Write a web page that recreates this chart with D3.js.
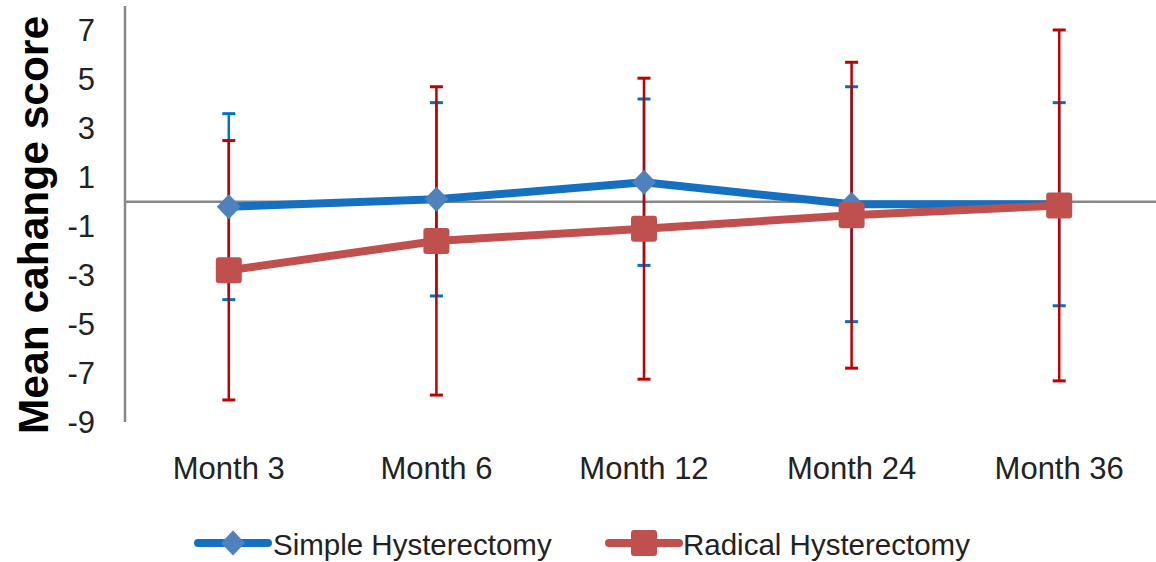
<!DOCTYPE html>
<html>
<head>
<meta charset="utf-8">
<script src="https://cdn.jsdelivr.net/npm/d3@7"></script>
<style>
  body { margin: 0; background: #fff; }
  svg { display: block; font-family: "Liberation Sans", Arial, sans-serif; }
</style>
</head>
<body>
<svg id="chart" width="1156" height="562"></svg>
<script>
const months = ["Month 3", "Month 6", "Month 12", "Month 24", "Month 36"];
const simpleMean = [-0.2, 0.1, 0.8, -0.1, -0.1];
const simpleErr = [3.8, 3.95, 3.4, 4.8, 4.15];
const radicalMean = [-2.8, -1.6, -1.1, -0.55, -0.15];
const radicalErr = [5.3, 6.3, 6.15, 6.25, 7.17];
const yTicks = [7, 5, 3, 1, -1, -3, -5, -7, -9];

const series = [
  { name: "Simple Hysterectomy", mean: simpleMean, err: simpleErr,
    line: "#1570c2", marker: "#4f81bd", bar: "#0070c0", shape: "diamond" },
  { name: "Radical Hysterectomy", mean: radicalMean, err: radicalErr,
    line: "#c0504d", marker: "#c0504d", bar: "#c00000", shape: "square" }
];

const svg = d3.select("#chart");
const plotL = 125, plotR = 1163, plotT = 6, plotB = 422;

const x = d3.scaleBand().domain(months).range([plotL, plotR]);
const y = d3.scaleLinear().domain([-9, 8]).range([plotB, plotT]);
const cx = m => x(m) + x.bandwidth() / 2;

// y axis line + labels
svg.append("line")
  .attr("x1", plotL).attr("x2", plotL).attr("y1", plotT).attr("y2", plotB)
  .attr("stroke", "#878787").attr("stroke-width", 2.5);

svg.append("g").selectAll("text")
  .data(yTicks).join("text")
  .attr("x", 95).attr("y", d => y(d)).attr("dy", "0.35em")
  .attr("text-anchor", "end")
  .attr("font-size", 31).attr("fill", "#222")
  .text(d => d);

// category axis crossing at 0
svg.append("line")
  .attr("x1", plotL).attr("x2", 1156).attr("y1", y(0)).attr("y2", y(0))
  .attr("stroke", "#878787").attr("stroke-width", 2.5);

svg.append("g").selectAll("text")
  .data(months).join("text")
  .attr("x", d => cx(d)).attr("y", 479)
  .attr("text-anchor", "middle")
  .attr("font-size", 31).attr("fill", "#222")
  .text(d => d);

// axis title
svg.append("text")
  .attr("transform", "translate(48,225) rotate(-90)")
  .attr("text-anchor", "middle")
  .attr("font-size", 42.5).attr("font-weight", "bold").attr("fill", "#000")
  .text("Mean cahange score");

// error bars
const capW = 13;
series.forEach(s => {
  const g = svg.append("g");
  months.forEach((m, i) => {
    const hi = y(s.mean[i] + s.err[i]), lo = y(s.mean[i] - s.err[i]);
    const px = cx(m);
    g.append("line").attr("x1", px).attr("x2", px).attr("y1", hi).attr("y2", lo)
      .attr("stroke", s.bar).attr("stroke-width", 2.5);
    [hi, lo].forEach(v => g.append("line")
      .attr("x1", px - capW / 2).attr("x2", px + capW / 2).attr("y1", v).attr("y2", v)
      .attr("stroke", s.bar).attr("stroke-width", 3));
  });
});

// lines
const line = d3.line().x((d, i) => cx(months[i])).y(d => y(d));
series.forEach(s => {
  svg.append("path").datum(s.mean)
    .attr("d", line).attr("fill", "none")
    .attr("stroke", s.line).attr("stroke-width", 8)
    .attr("stroke-linejoin", "round");
});

function drawMarker(g, s, px, py) {
  if (s.shape === "diamond") {
    g.append("path")
      .attr("d", `M${px},${py - 12.5}L${px + 12},${py}L${px},${py + 12.5}L${px - 12},${py}Z`)
      .attr("fill", s.marker);
  } else {
    g.append("rect")
      .attr("x", px - 13).attr("y", py - 13).attr("width", 26).attr("height", 26)
      .attr("rx", 3).attr("fill", s.marker);
  }
}

series.forEach(s => {
  const g = svg.append("g");
  s.mean.forEach((v, i) => drawMarker(g, s, cx(months[i]), y(v)));
});

// legend
const legendItems = [
  { s: series[0], x0: 198, x1: 268, tx: 273 },
  { s: series[1], x0: 609, x1: 679, tx: 683 }
];
legendItems.forEach(it => {
  const ly = 543;
  svg.append("line")
    .attr("x1", it.x0).attr("x2", it.x1).attr("y1", ly).attr("y2", ly)
    .attr("stroke", it.s.line).attr("stroke-width", 8).attr("stroke-linecap", "round");
  drawMarker(svg, it.s, (it.x0 + it.x1) / 2, ly);
  svg.append("text")
    .attr("x", it.tx).attr("y", 555)
    .attr("font-size", 29.5).attr("fill", "#222")
    .text(it.s.name);
});
</script>
</body>
</html>
